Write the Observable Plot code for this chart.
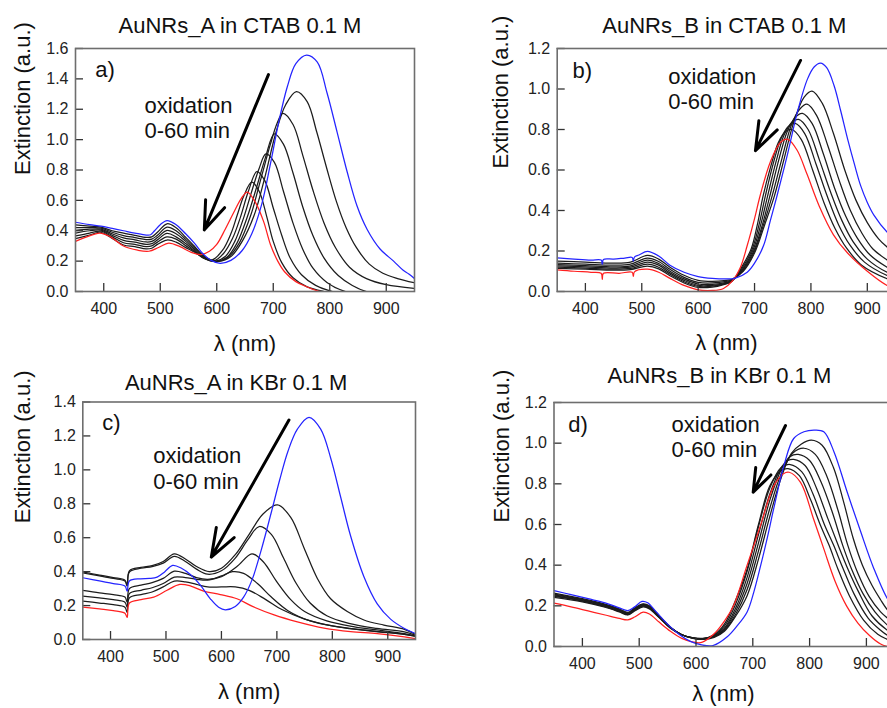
<!DOCTYPE html>
<html><head><meta charset="utf-8">
<script src="https://cdn.jsdelivr.net/npm/d3@7"></script>
<script src="https://cdn.jsdelivr.net/npm/@observablehq/plot@0.6"></script>
<style>
html,body{margin:0;padding:0;background:#fff;}
#fig{position:relative;width:887px;height:708px;overflow:hidden;background:#fff;}
.panel{position:absolute;}
.panel svg{overflow:visible;max-width:none !important;}
</style></head><body><div id="fig"></div>
<script>
// ---------- tick labels & text ----------
const xTicks = [400, 500, 600, 700, 800, 900];
const yTicksA = [0, 0.2, 0.4, 0.6, 0.8, 1.0, 1.2, 1.4, 1.6];
const yTicksB = [0, 0.2, 0.4, 0.6, 0.8, 1.0, 1.2];
const yTicksC = [0, 0.2, 0.4, 0.6, 0.8, 1.0, 1.2, 1.4];
const yTicksD = [0, 0.2, 0.4, 0.6, 0.8, 1.0, 1.2];
const titles = ["AuNRs_A in CTAB 0.1 M", "AuNRs_B in CTAB 0.1 M", "AuNRs_A in KBr 0.1 M", "AuNRs_B in KBr 0.1 M"];
const yLabel = "Extinction (a.u.)";
const xLabel = "λ (nm)";
const noteLines = ["oxidation", "0-60 min"];

// ---------- panel a : [wavelength nm, extinction] ----------
const aBlue = [[350,.456],[375,.44],[395,.43],[415,.415],[435,.40],[455,.385],[475,.372],[483,.374],[490,.40],[500,.44],[512,.467],[528,.44],[545,.38],[560,.32],[575,.25],[590,.205],[606,.186],[625,.205],[645,.27],[662,.38],[680,.58],[695,.84],[710,1.12],[725,1.35],[740,1.50],[759,1.557],[778,1.51],[795,1.31],[813,1.05],[831,.785],[848,.566],[866,.41],[889,.28],[913,.20],[930,.14],[940,.115],[950,.085]];
const aRed = [[350,.33],[370,.36],[393,.385],[412,.36],[435,.30],[460,.272],[480,.265],[497,.29],[515,.318],[535,.295],[555,.258],[572,.243],[587,.265],[600,.31],[615,.41],[630,.52],[643,.61],[654,.655],[668,.59],[683,.46],[695,.31],[708,.20],[720,.13],[740,.065],[760,.03],[778,.005],[800,-.01]];
const aK1 = [[350,.438],[375,.43],[395,.424],[415,.40],[435,.384],[455,.37],[475,.357],[485,.36],[495,.39],[512,.446],[528,.42],[545,.357],[560,.30],[575,.24],[590,.207],[603,.198],[625,.23],[645,.33],[666,.50],[685,.75],[705,1.05],[722,1.23],[741,1.316],[760,1.25],[777,1.05],[794,.82],[812,.59],[829,.42],[847,.29],[870,.18],[894,.12],[920,.085],[950,.057]];
const aK2 = [[350,.42],[375,.42],[395,.418],[415,.39],[435,.368],[455,.355],[475,.342],[485,.345],[495,.37],[512,.424],[528,.40],[545,.343],[560,.29],[575,.235],[590,.205],[601,.197],[620,.225],[640,.32],[660,.50],[678,.74],[695,.97],[707,1.11],[717,1.173],[735,1.10],[752,.90],[770,.67],[790,.45],[810,.29],[835,.16],[865,.085],[900,.045],[950,.02]];
const aK3 = [[350,.402],[375,.41],[395,.411],[415,.38],[435,.353],[455,.34],[475,.326],[485,.33],[495,.355],[512,.403],[528,.38],[545,.33],[560,.28],[575,.23],[590,.203],[599,.197],[618,.225],[636,.32],[654,.49],[670,.68],[686,.88],[702,1.038],[718,.97],[735,.78],[752,.56],[770,.37],[790,.22],[815,.105],[840,.04],[865,.0],[900,-.02]];
const aK4 = [[350,.384],[375,.40],[395,.404],[415,.37],[435,.337],[455,.325],[475,.311],[485,.315],[495,.34],[512,.382],[528,.36],[545,.316],[560,.27],[575,.225],[588,.203],[597,.198],[615,.23],[632,.33],[648,.49],[662,.66],[675,.81],[687,.906],[702,.85],[718,.66],[735,.45],[752,.28],[770,.155],[795,.06],[828,.0],[870,-.02]];
const aK5 = [[350,.366],[375,.385],[395,.397],[415,.36],[435,.321],[455,.31],[475,.295],[485,.30],[495,.325],[512,.36],[528,.345],[545,.302],[560,.265],[575,.222],[586,.205],[595,.202],[612,.25],[628,.35],[642,.49],[656,.66],[671,.789],[685,.73],[700,.55],[715,.37],[730,.22],[750,.11],[775,.04],[805,.0],[850,-.02]];
const aK6 = [[350,.348],[375,.372],[395,.39],[415,.35],[435,.306],[455,.295],[475,.28],[485,.285],[495,.31],[512,.339],[528,.325],[545,.289],[560,.26],[575,.225],[585,.21],[592,.208],[610,.27],[625,.38],[636,.50],[648,.63],[662,.72],[675,.66],[688,.50],[700,.33],[715,.19],[735,.09],[760,.03],[790,.0],[830,-.02]];

// ---------- panel b ----------
const bBlue = [[350,.166],[380,.16],[410,.155],[428,.155],[430,.135],[432,.158],[450,.16],[470,.165],[483,.168],[485,.15],[487,.17],[495,.18],[510,.198],[530,.175],[550,.13],[575,.095],[600,.074],[625,.065],[650,.062],[665,.065],[687,.095],[700,.14],[716,.227],[728,.35],[740,.474],[758,.672],[776,.886],[794,1.05],[806,1.11],[817,1.128],[828,1.105],[841,1.017],[853,.89],[865,.754],[877,.63],[888,.524],[900,.44],[912,.376],[935,.294],[950,.26]];
const bRed = [[350,.107],[380,.10],[410,.095],[428,.09],[430,.06],[432,.09],[460,.09],[483,.095],[485,.075],[487,.097],[510,.11],[530,.095],[550,.065],[575,.03],[600,.008],[625,.005],[645,.015],[660,.05],[675,.12],[687,.227],[700,.36],[710,.474],[728,.64],[746,.737],[758,.752],[775,.70],[793,.58],[815,.42],[840,.28],[865,.19],[900,.10],[935,.03],[950,.015]];
const bK1 = [[350,.15],[400,.145],[450,.14],[480,.145],[510,.178],[530,.16],[550,.12],[575,.08],[600,.055],[625,.05],[650,.055],[660,.06],[680,.10],[700,.19],[718,.33],[735,.47],[752,.65],[770,.84],[788,.96],[802,.99],[820,.93],[840,.78],[860,.60],[880,.45],[900,.34],[920,.26],[935,.22],[950,.19]];
const bK2 = [[350,.14],[400,.135],[450,.13],[480,.135],[510,.165],[530,.148],[550,.11],[575,.07],[600,.045],[625,.042],[650,.05],[660,.058],[680,.105],[700,.20],[716,.33],[731,.47],[748,.65],[765,.82],[780,.90],[793,.925],[810,.87],[830,.72],[850,.55],[870,.40],[890,.29],[910,.21],[935,.156],[950,.13]];
const bK3 = [[350,.133],[400,.128],[450,.122],[480,.127],[510,.155],[530,.138],[550,.10],[575,.062],[600,.037],[625,.035],[650,.045],[660,.056],[680,.11],[700,.21],[714,.33],[727,.47],[743,.65],[758,.79],[772,.86],[785,.88],[802,.83],[822,.68],[842,.51],[862,.37],[882,.265],[905,.18],[935,.12],[950,.10]];
const bK4 = [[350,.127],[400,.122],[450,.116],[480,.12],[510,.145],[530,.13],[550,.092],[575,.055],[600,.03],[625,.03],[650,.042],[660,.054],[680,.115],[698,.21],[711,.33],[723,.47],[738,.64],[752,.77],[766,.835],[778,.85],[795,.80],[815,.65],[835,.49],[855,.35],[875,.245],[900,.16],[935,.095],[950,.08]];
const bK5 = [[350,.12],[400,.116],[450,.11],[480,.114],[510,.135],[530,.12],[550,.085],[575,.048],[600,.025],[625,.026],[650,.04],[660,.052],[678,.115],[696,.21],[708,.33],[719,.47],[733,.63],[747,.755],[760,.815],[772,.83],[789,.78],[809,.63],[829,.47],[849,.33],[869,.23],[895,.145],[935,.079],[950,.065]];
const bK6 = [[350,.114],[400,.11],[450,.105],[480,.108],[510,.125],[530,.112],[550,.078],[575,.042],[600,.02],[625,.022],[650,.038],[660,.05],[676,.115],[694,.21],[705,.33],[715,.47],[729,.62],[742,.735],[755,.79],[766,.80],[783,.75],[803,.60],[823,.44],[843,.31],[863,.215],[890,.13],[935,.063],[950,.05]];

// ---------- panel c ----------
const cBlue = [[350,.364],[380,.345],[405,.33],[426,.315],[430,.285],[434,.345],[454,.358],[470,.36],[484,.368],[498,.40],[512,.437],[528,.42],[545,.38],[562,.32],[580,.24],[595,.19],[607,.175],[625,.195],[640,.25],[655,.35],[672,.53],[690,.75],[705,.94],[720,1.11],[737,1.24],[758,1.31],[779,1.24],[797,1.07],[815,.84],[833,.61],[857,.37],[881,.21],[905,.12],[930,.065],[950,.035]];
const cRed = [[350,.191],[380,.18],[405,.17],[426,.155],[430,.13],[434,.215],[455,.235],[478,.25],[502,.29],[525,.325],[545,.315],[568,.285],[598,.265],[628,.24],[656,.195],[695,.145],[737,.104],[785,.067],[833,.046],[881,.035],[930,.016],[950,.005]];
const cK1 = [[350,.398],[380,.38],[405,.365],[426,.35],[430,.32],[434,.405],[455,.425],[475,.435],[495,.46],[515,.505],[535,.475],[555,.43],[578,.40],[600,.42],[625,.50],[650,.62],[675,.74],[701,.793],[725,.72],[749,.54],[773,.36],[797,.24],[827,.165],[857,.115],[893,.085],[930,.06],[950,.03]];
const cK2 = [[350,.392],[380,.375],[405,.36],[426,.345],[430,.315],[434,.398],[455,.42],[475,.43],[495,.45],[515,.49],[535,.46],[555,.415],[575,.385],[600,.405],[625,.48],[648,.59],[668,.666],[690,.62],[712,.48],[735,.33],[760,.215],[790,.14],[830,.095],[880,.065],[930,.045],[950,.025]];
const cK3 = [[350,.289],[380,.275],[405,.265],[426,.25],[430,.22],[434,.30],[455,.32],[475,.335],[495,.36],[515,.403],[535,.39],[555,.365],[575,.355],[600,.37],[628,.43],[655,.505],[675,.46],[700,.34],[725,.235],[750,.165],[790,.11],[840,.075],[890,.052],[930,.035],[950,.02]];
const cK4 = [[350,.256],[380,.245],[405,.235],[426,.22],[430,.19],[434,.27],[455,.29],[475,.305],[495,.33],[515,.368],[535,.365],[555,.355],[575,.35],[600,.375],[620,.40],[640,.39],[665,.33],[690,.25],[720,.17],[760,.11],[810,.075],[870,.05],[930,.03],[950,.02]];
const cK5 = [[350,.226],[380,.215],[405,.205],[426,.19],[430,.16],[434,.245],[455,.265],[475,.28],[495,.31],[515,.344],[535,.34],[555,.325],[575,.31],[600,.31],[625,.31],[650,.29],[680,.235],[710,.175],[750,.12],[800,.08],[860,.055],[920,.035],[950,.02]];

// ---------- panel d ----------
const dBlue = [[350,.275],[380,.255],[410,.235],[440,.215],[465,.19],[480,.177],[492,.195],[505,.222],[515,.215],[530,.17],[550,.11],[570,.06],[590,.025],[610,.008],[630,.005],[655,.048],[672,.10],[690,.17],[702,.27],[714,.40],[726,.54],[737,.68],[755,.892],[772,1.023],[790,1.056],[808,1.064],[825,1.056],[843,.957],[866,.761],[890,.564],[913,.384],[937,.235],[950,.19]];
const dRed = [[350,.213],[380,.195],[410,.175],[440,.155],[465,.138],[480,.131],[492,.145],[507,.169],[518,.16],[535,.12],[555,.075],[575,.04],[595,.022],[610,.02],[631,.06],[650,.125],[666,.20],[690,.40],[713,.59],[737,.79],[754,.85],[764,.857],[784,.807],[807,.627],[825,.48],[845,.32],[865,.20],[885,.115],[905,.055],[925,.012],[950,-.01]];
const dK1 = [[350,.262],[400,.235],[440,.208],[465,.185],[480,.168],[492,.19],[507,.21],[518,.20],[535,.152],[555,.095],[575,.058],[595,.04],[612,.035],[632,.045],[650,.075],[670,.15],[690,.25],[710,.43],[730,.64],[750,.83],[768,.95],[785,.995],[803,1.015],[822,.99],[842,.88],[860,.71],[877,.53],[893,.40],[910,.30],[925,.23],[937,.18],[950,.14]];
const dK2 = [[350,.258],[400,.232],[440,.205],[465,.182],[480,.165],[492,.187],[507,.207],[518,.197],[535,.15],[555,.094],[575,.058],[595,.04],[612,.036],[632,.048],[650,.08],[670,.16],[690,.28],[710,.47],[730,.68],[750,.85],[770,.95],[790,.975],[810,.945],[830,.84],[850,.67],[867,.50],[885,.36],[905,.245],[925,.17],[937,.14],[950,.11]];
const dK3 = [[350,.254],[400,.229],[440,.202],[465,.179],[480,.162],[492,.184],[507,.204],[518,.194],[535,.148],[555,.093],[575,.058],[595,.041],[612,.037],[632,.05],[650,.085],[670,.175],[690,.31],[710,.51],[730,.72],[750,.87],[766,.935],[780,.945],[800,.915],[820,.81],[840,.66],[858,.50],[874,.38],[894,.26],[915,.17],[937,.105],[950,.08]];
const dK4 = [[350,.25],[400,.226],[440,.199],[465,.176],[480,.16],[492,.181],[507,.201],[518,.191],[535,.146],[555,.092],[575,.058],[595,.042],[612,.038],[632,.052],[650,.09],[670,.19],[690,.34],[710,.55],[730,.75],[750,.88],[762,.915],[772,.92],[792,.89],[812,.78],[832,.63],[850,.50],[866,.39],[886,.27],[910,.15],[937,.08],[950,.06]];
const dK5 = [[350,.246],[400,.223],[440,.196],[465,.173],[480,.157],[492,.178],[507,.198],[518,.188],[535,.144],[555,.091],[575,.058],[595,.042],[612,.039],[632,.055],[650,.10],[670,.21],[690,.37],[710,.59],[730,.78],[750,.88],[766,.895],[786,.86],[806,.75],[826,.60],[842,.50],[858,.39],[878,.26],[903,.14],[925,.08],[937,.055],[950,.04]];
const dK6 = [[350,.242],[400,.22],[440,.193],[465,.17],[480,.155],[492,.175],[507,.195],[518,.185],[535,.142],[555,.09],[575,.058],[595,.043],[612,.04],[632,.058],[650,.11],[670,.23],[690,.38],[710,.60],[730,.79],[750,.865],[762,.875],[782,.84],[802,.72],[820,.59],[834,.50],[850,.38],[870,.25],[895,.13],[920,.06],[937,.035],[950,.02]];

// ---------- annotation anchors (data units) ----------
const letterA = ["a)", 385, 1.41],  letterB = ["b)", 377, 1.052], letterC = ["c)", 385, 1.234], letterD = ["d)", 375, 1.054];
const noteA = [472, 1.173, 1.011], noteB = [547, 1.026, 0.902], noteC = [477, 1.041, 0.89], noteD = [557, 1.054, 0.931];
const arrowA = [691.5, 1.428, 578, 0.406], arrowB = [781.6, 1.141, 701.6, 0.696], arrowC = [721.8, 1.294, 581.8, 0.486], arrowD = [757.6, 1.087, 700.7, 0.759];

const FONT = "'Liberation Sans', Arial, Helvetica, sans-serif";

function panel(cfg) {
  const line = (pts, color) => Plot.line(pts, {x: d => d[0], y: d => d[1], stroke: color, strokeWidth: 1.25, curve: "catmull-rom", clip: true});
  const notes = noteLines.map((t, i) => ({t, x: cfg.note[0], y: cfg.note[1 + i]}));
  const marks = [
    ...cfg.blacks.map(s => line(s, "#1c1c1c")),
    line(cfg.red, "#ff2020"),
    line(cfg.blue, "#2424ff"),
    Plot.arrow([cfg.arrow], {x1: d => d[0], y1: d => d[1], x2: d => d[2], y2: d => d[3], stroke: "#000", strokeWidth: 3, headLength: 15, headAngle: 40}),
    Plot.text([cfg.letter], {x: d => d[1], y: d => d[2], text: d => d[0], textAnchor: "start", lineAnchor: "bottom", fontSize: 22, fill: "#111"}),
    Plot.text(notes, {x: "x", y: "y", text: "t", textAnchor: "start", lineAnchor: "bottom", fontSize: 22, fill: "#111"}),
    Plot.axisX({ticks: xTicks, tickSize: 8, tickFormat: () => "", label: null, dy: -8, stroke: "#333", strokeWidth: 1.3}),
    Plot.axisY({ticks: cfg.yTicks, tickSize: 8, tickFormat: () => "", label: null, dx: 8, stroke: "#333", strokeWidth: 1.3}),
    Plot.axisX({ticks: xTicks, tickSize: 0, tickPadding: 11, fontSize: 16, label: null, fill: "#222"}),
    Plot.axisY({ticks: cfg.yTicks, tickSize: 0, tickPadding: 7, fontSize: 16, tickFormat: d3.format(".1f"), label: null, fill: "#222"}),
    Plot.frame({stroke: "#6e6e6e", strokeWidth: 1.6}),
    Plot.text([cfg.title], {text: d => d, frameAnchor: "top", dx: cfg.tdx, dy: cfg.tdy, fontSize: 22, lineAnchor: "middle", fill: "#111"}),
    Plot.text([yLabel], {text: d => d, frameAnchor: "left", rotate: -90, dx: cfg.ydx, dy: cfg.ydy, fontSize: 22, lineAnchor: "middle", fill: "#111"}),
    Plot.text([xLabel], {text: d => d, frameAnchor: "bottom", dx: cfg.xdx, dy: cfg.xdy, fontSize: 22, lineAnchor: "middle", fill: "#111"})
  ];
  const svg = Plot.plot({
    width: cfg.w, height: cfg.h,
    marginLeft: cfg.ml, marginRight: cfg.mr, marginTop: cfg.mt, marginBottom: cfg.mb,
    x: {domain: [350, 950]},
    y: {domain: [0, cfg.ymax]},
    style: {fontFamily: FONT, background: "transparent", overflow: "visible", maxWidth: "none"},
    marks
  });
  svg.style.maxWidth = "none";
  svg.style.width = cfg.w + "px";
  svg.style.height = cfg.h + "px";
  const div = document.createElement("div");
  div.className = "panel";
  div.style.left = cfg.left + "px";
  div.style.top = cfg.top + "px";
  div.style.width = cfg.w + "px";
  div.style.height = cfg.h + "px";
  div.appendChild(svg);
  document.getElementById("fig").appendChild(div);
}

panel({left: 0, top: 0, w: 440, h: 360, ml: 75, mr: 26, mt: 48, mb: 69, ymax: 1.6, yTicks: yTicksA,
  blacks: [aK1, aK2, aK3, aK4, aK5, aK6], red: aRed, blue: aBlue, title: titles[0],
  letter: letterA, note: noteA, arrow: arrowA, tdx: -5, tdy: -23, ydx: -52.5, ydy: 5, xdx: 0, xdy: 52.5});
panel({left: 440, top: 0, w: 470, h: 360, ml: 116.7, mr: 15, mt: 48, mb: 69, ymax: 1.2, yTicks: yTicksB,
  blacks: [bK1, bK2, bK3, bK4, bK5, bK6], red: bRed, blue: bBlue, title: titles[1],
  letter: letterB, note: noteB, arrow: arrowB, tdx: -2, tdy: -23, ydx: -56, ydy: -1.5, xdx: 0, xdy: 51});
panel({left: 0, top: 360, w: 440, h: 348, ml: 82.3, mr: 25, mt: 41.5, mb: 69, ymax: 1.4, yTicks: yTicksC,
  blacks: [cK1, cK2, cK3, cK4, cK5], red: cRed, blue: cBlue, title: titles[2],
  letter: letterC, note: noteC, arrow: arrowC, tdx: -13, tdy: -19, ydx: -60, ydy: 2.5, xdx: 0, xdy: 52.7});
panel({left: 440, top: 360, w: 470, h: 348, ml: 113.5, mr: 15.7, mt: 42, mb: 62, ymax: 1.2, yTicks: yTicksD,
  blacks: [dK1, dK2, dK3, dK4, dK5, dK6], red: dRed, blue: dBlue, title: titles[3],
  letter: letterD, note: noteD, arrow: arrowD, tdx: -5, tdy: -26.5, ydx: -52.5, ydy: -2, xdx: -1, xdy: 47.5});
</script></body></html>
